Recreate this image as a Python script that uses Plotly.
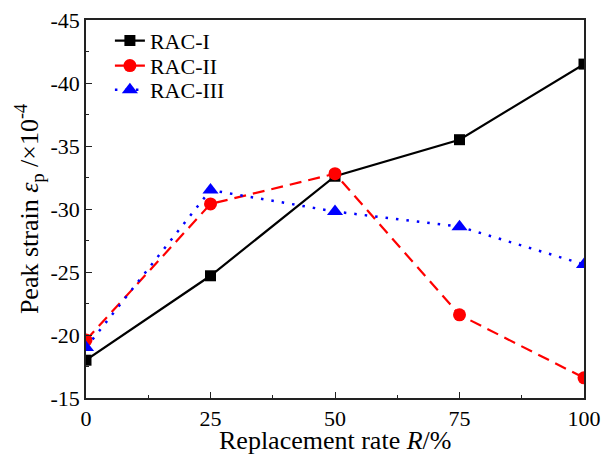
import plotly.graph_objects as go

rates = [0, 25, 50, 75, 100]
rac1 = [-18.0, -24.7, -32.6, -35.5, -41.5]
rac2 = [-19.6, -30.4, -32.8, -21.6, -16.6]
rac3 = [-19.0, -31.5, -29.8, -28.6, -25.6]
names = ["RAC-I", "RAC-II", "RAC-III"]
x_ticks = [0, 25, 50, 75, 100]
y_ticks = [-45, -40, -35, -30, -25, -20, -15]
y_ticktext = ["-45", "-40", "-35", "-30", "-25", "-20", "-15"]
x_title = "Replacement rate <i>R</i>/%"
y_title = "Peak strain <i>ε</i><sub>p</sub> /×10<sup>-4</sup>"

font_family = "Liberation Serif, Times New Roman, serif"

fig = go.Figure()
fig.add_trace(go.Scatter(x=rates, y=rac1, name=names[0], mode="lines+markers", legend="legend",
                         line=dict(color="black", width=2.2),
                         marker=dict(symbol="square", size=11, color="black")))
fig.add_trace(go.Scatter(x=rates, y=rac2, name=names[1], mode="lines+markers", legend="legend2",
                         line=dict(color="red", width=2.2, dash="12px,7px"),
                         marker=dict(symbol="circle", size=13, color="red")))
fig.add_trace(go.Scatter(x=rates, y=rac3, name=names[2], mode="lines+markers", legend="legend3",
                         line=dict(color="blue", width=2.5, dash="2.5px,8px"),
                         marker=dict(symbol="triangle-up", size=14, color="blue")))

axis_common = dict(showline=True, linecolor="#222222", linewidth=1.5, mirror=True,
                   ticks="inside", ticklen=6, tickwidth=1.3, tickcolor="#222222",
                   showgrid=False, zeroline=False, automargin=False,
                   tickfont=dict(family=font_family, size=22, color="black"))

fig.update_xaxes(range=[0, 100], tickvals=x_ticks,
                 minor=dict(dtick=12.5, ticks="inside", ticklen=3, tickcolor="#222222", tick0=0),
                 **axis_common)
fig.update_yaxes(range=[-15, -45], tickvals=y_ticks, ticktext=y_ticktext,
                 minor=dict(dtick=2.5, ticks="inside", ticklen=3, tickcolor="#222222", tick0=-15),
                 title=dict(text=y_title, standoff=4,
                            font=dict(family=font_family, size=26, color="black")),
                 **axis_common)

fig.add_annotation(text=x_title, xref="paper", yref="paper", x=0.5, y=-0.113,
                   xanchor="center", yanchor="middle", showarrow=False,
                   font=dict(family=font_family, size=26, color="black"))

leg_common = dict(x=0.048, xanchor="left", yanchor="middle", bgcolor="rgba(0,0,0,0)",
                  font=dict(family=font_family, size=22, color="black"))
fig.update_layout(width=603, height=454, margin=dict(l=86, r=19, t=20, b=56),
                  plot_bgcolor="white", paper_bgcolor="white",
                  legend=dict(y=0.945, **leg_common),
                  legend2=dict(y=0.879, **leg_common),
                  legend3=dict(y=0.815, **leg_common),
                  showlegend=True)

fig.write_html("out.html")
